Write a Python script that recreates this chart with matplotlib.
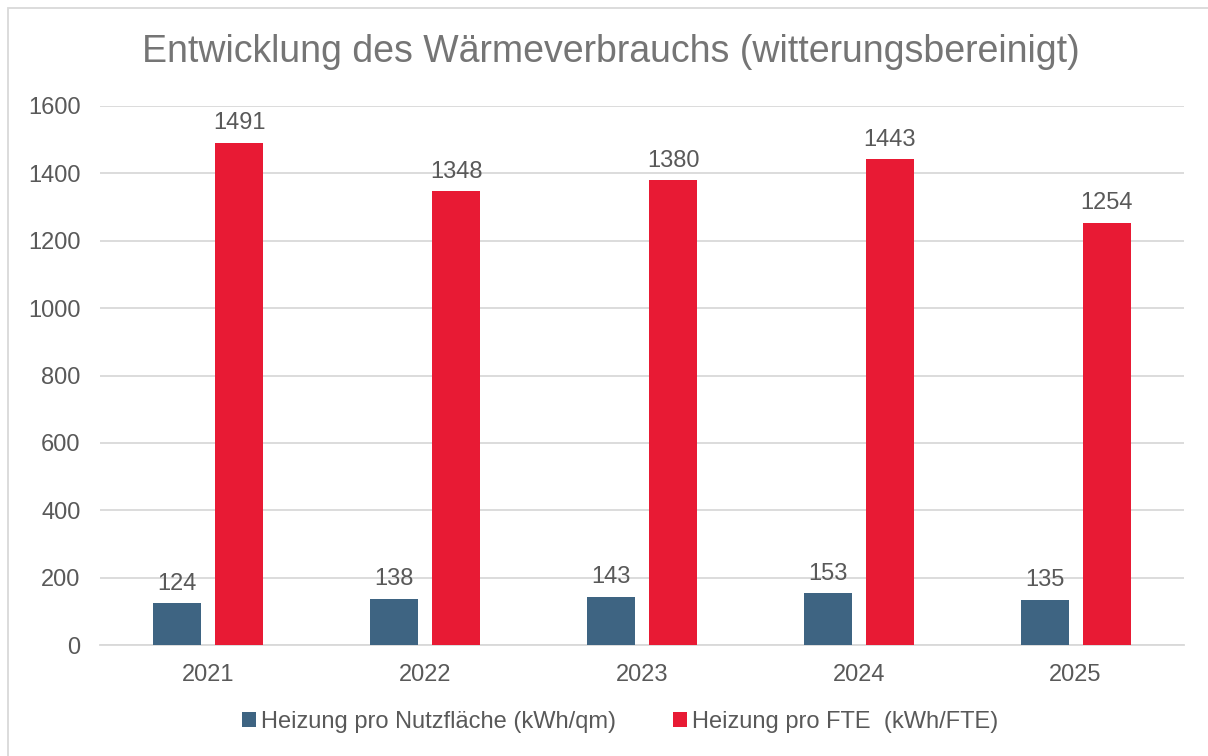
import matplotlib.pyplot as plt
import matplotlib.patches as mpatches
import numpy as np

plt.rcParams['font.family'] = ['Liberation Sans', 'DejaVu Sans']

years = ["2021", "2022", "2023", "2024", "2025"]
per_area = [124, 138, 143, 153, 135]
per_fte = [1491, 1348, 1380, 1443, 1254]
labels = ["Heizung pro Nutzfläche (kWh/qm)", "Heizung pro FTE  (kWh/FTE)"]

BLUE = "#3E6482"
RED = "#E81A34"
TEXT = "#595959"
GRID = "#D9D9D9"

fig = plt.figure(figsize=(12.08, 7.56), dpi=100)
ax = fig.add_axes([100 / 1208, 1 - 645 / 756, 1084 / 1208, 539 / 756])

x = np.arange(len(years))
w = 0.221
off = 0.143
b1 = ax.bar(x - off, per_area, w, color=BLUE, label=labels[0], zorder=3)
b2 = ax.bar(x + off, per_fte, w, color=RED, label=labels[1], zorder=3)

for bars in (b1, b2):
    ax.bar_label(bars, padding=6, fontsize=17, color=TEXT)

ax.set_xlim(-0.5, 4.5)
ax.set_ylim(0, 1600)
ax.set_yticks(range(0, 1601, 200))
ax.set_xticks(x)
ax.set_xticklabels(years)
ax.tick_params(axis='both', length=0, labelsize=17, colors=TEXT)
ax.tick_params(axis='x', pad=14)
ax.tick_params(axis='y', pad=14)
ax.yaxis.grid(True, color=GRID, linewidth=1.3, zorder=0)
for s in ("top", "right", "left"):
    ax.spines[s].set_visible(False)
ax.spines["bottom"].set_color(GRID)
ax.spines["bottom"].set_linewidth(1.3)

fig.text(0.506, 1 - 52 / 756, "Entwicklung des Wärmeverbrauchs (witterungsbereinigt)",
         ha="center", va="center", fontsize=27, color="#757575")

fig.legend(loc="center", bbox_to_anchor=(620 / 1208, 1 - 722 / 756), ncol=2, frameon=False,
           fontsize=17, labelcolor=TEXT, handlelength=0.6, handleheight=0.6,
           handletextpad=0.2, columnspacing=2.4)

# outer chart frame
fig.patches.append(mpatches.Rectangle((8 / 1208, -0.05), 1.1, 1 - 8 / 756 + 0.05,
                                      transform=fig.transFigure, fill=False,
                                      edgecolor=GRID, linewidth=1.3))

fig.savefig("out.png", dpi=100)
